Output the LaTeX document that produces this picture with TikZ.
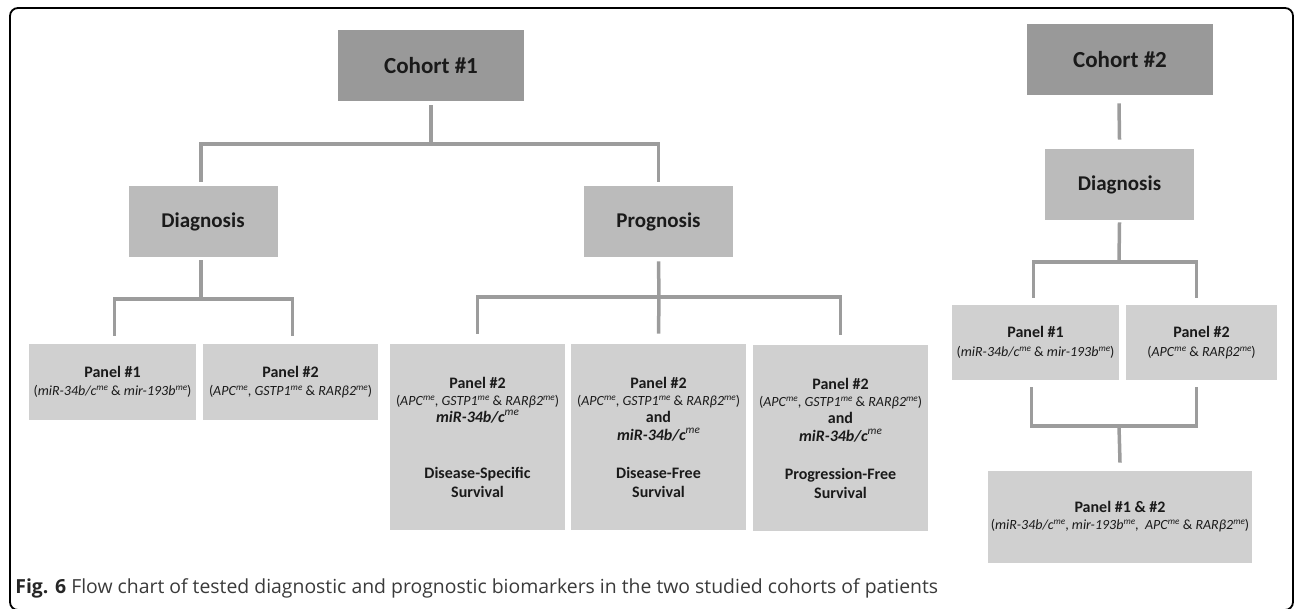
\documentclass[tikz,border=0pt]{standalone}
\usepackage{fontspec}
\setmainfont{Carlito}
\newfontfamily\capfont{Open Sans}
\definecolor{cohortgray}{HTML}{999999}
\definecolor{stagegray}{HTML}{BBBBBB}
\definecolor{panelgray}{HTML}{D0D0D0}
\definecolor{linegray}{HTML}{9C9C9C}
\definecolor{txt}{HTML}{1A1A1A}
\definecolor{captxt}{HTML}{3A3A3A}
\newcommand\mesup{\raisebox{0.75ex}{\fontsize{4.6}{5}\selectfont\itshape\mdseries me}}
\newcommand\mebig{\raisebox{0.8ex}{\fontsize{5.6}{6}\selectfont\itshape\mdseries me}}
\newcommand\gm[1]{\textit{#1}\mesup}
\newcommand\sm[1]{{\fontsize{7}{8}\selectfont #1}}
\newcommand\mir{\textbf{\textit{miR-34b/c}}\mebig}
\tikzset{
  cohort/.style={fill=cohortgray, text=txt, inner sep=0pt, font=\bfseries\fontsize{11.5}{13}\selectfont, minimum width=93pt, minimum height=35.5pt},
  stage/.style={fill=stagegray, text=txt, inner sep=0pt, font=\bfseries\fontsize{10.5}{12}\selectfont, minimum width=74.5pt, minimum height=35.5pt},
  panel/.style={fill=panelgray, text=txt, inner sep=0pt, align=center, font=\fontsize{8}{8.5}\selectfont},
  conn/.style={draw=linegray, line width=1.75pt},
  frame/.style={draw=black, line width=0.9pt, rounded corners=4pt}
}
\begin{document}
\begin{tikzpicture}[x=0.5pt,y=-0.5pt]
\useasboundingbox (0,0) rectangle (1295,609);
\draw[frame] (10,8) rectangle (1293,610);

% Cohort 1
\node[cohort] (c1) at (431,65.5) {Cohort \#1};
\node[stage] (diag1) at (203,221.5) {Diagnosis};
\node[stage] (prog) at (658.5,221.5) {Prognosis};
\node[panel, minimum width=83.5pt, minimum height=38pt] (p1) at (112.5,382)
  {\textbf{Panel \#1}\\[0.5pt]\sm{(\gm{miR-34b/c} \& \gm{mir-193b})}};
\node[panel, minimum width=87.5pt, minimum height=38pt] (p2) at (290.5,382)
  {\textbf{Panel \#2}\\[0.5pt]\sm{(\gm{APC}, \gm{GSTP1} \& \gm{RARβ2})}};

\node[panel, minimum width=87.5pt, minimum height=93pt] (pa) at (477.5,437)
  {\textbf{Panel \#2}\\\sm{(\gm{APC}, \gm{GSTP1} \& \gm{RARβ2})}\\
   \mir\\[19.5pt]
   \textbf{Disease-Specific}\\[1pt]\textbf{Survival}};
\node[panel, minimum width=87.5pt, minimum height=93pt] (pb) at (658.5,437)
  {\textbf{Panel \#2}\\\sm{(\gm{APC}, \gm{GSTP1} \& \gm{RARβ2})}\\
   \textbf{and}\\[0.5pt]\mir\\[10.5pt]
   \textbf{Disease-Free}\\[1pt]\textbf{Survival}};
\node[panel, minimum width=87.5pt, minimum height=93pt] (pc) at (840.5,438)
  {\textbf{Panel \#2}\\\sm{(\gm{APC}, \gm{GSTP1} \& \gm{RARβ2})}\\
   \textbf{and}\\[0.5pt]\mir\\[10.5pt]
   \textbf{Progression-Free}\\[1pt]\textbf{Survival}};

% Cohort 2
\node[cohort] (c2) at (1120,59.5) {Cohort \#2};
\node[stage] (diag2) at (1119.5,184.5) {Diagnosis};
\node[panel, minimum width=83.5pt, minimum height=37.5pt] (q1) at (1035.5,342.5)
  {\textbf{Panel \#1}\\[1pt]\sm{(\gm{miR-34b/c} \& \gm{mir-193b})}};
\node[panel, minimum width=75.5pt, minimum height=37.5pt] (q2) at (1201.5,342.5)
  {\textbf{Panel \#2}\\[1pt]\sm{(\gm{APC} \& \gm{RARβ2})}};
\node[panel, minimum width=132pt, minimum height=46pt] (q12) at (1120,517)
  {\textbf{Panel \#1 \& \#2}\\[0pt]\sm{(\gm{miR-34b/c}, \gm{mir-193b},\ \ \gm{APC} \& \gm{RARβ2})}};

% junction coordinates
\coordinate (j1) at (431,144);
\coordinate (j2) at (201,299);
\coordinate (j3) at (659,297);
\coordinate (j4) at (1119,262);
\coordinate (j5) at (1119,426);

% connectors cohort 1
\draw[conn] ([yshift=-2pt]c1.south) -- (j1);
\draw[conn] ([xshift=-1pt,yshift=2pt]diag1.north) |- (j1) -| ([yshift=2pt]prog.north);
\draw[conn] ([xshift=-1pt,yshift=-1.5pt]diag1.south) -- (j2);
\draw[conn] ([xshift=1pt,yshift=4pt]p1.north) |- (j2) -| ([xshift=1pt,yshift=4pt]p2.north);
\draw[conn] ([yshift=-2pt]prog.south) -- (j3);
\draw[conn] ([yshift=5pt]pa.north) |- (j3) -| ([yshift=5pt]pc.north);
\draw[conn] (j3) -- ([yshift=5pt]pb.north);

% connectors cohort 2
\draw[conn] ([xshift=-0.5pt,yshift=-4pt]c2.south) -- ([yshift=4.5pt]diag2.north);
\draw[conn] ([yshift=-1pt]diag2.south) -- (j4);
\draw[conn] ([xshift=-1pt,yshift=3.5pt]q1.north) |- (j4) -| ([xshift=-2.5pt,yshift=3.5pt]q2.north);
\draw[conn] ([xshift=-2pt,yshift=-3.5pt]q1.south) |- (j5) -| ([xshift=-2.5pt,yshift=-3.5pt]q2.south);
\draw[conn] (j5) -- ([yshift=4pt]q12.north);

% caption
\node[anchor=base west, inner sep=0pt, text=captxt, font=\capfont\fontsize{9.7}{11}\selectfont] (cap) at (15,593)
  {\textbf{\color{black!85}Fig. 6} Flow chart of tested diagnostic and prognostic biomarkers in the two studied cohorts of patients};
\end{tikzpicture}
\end{document}
